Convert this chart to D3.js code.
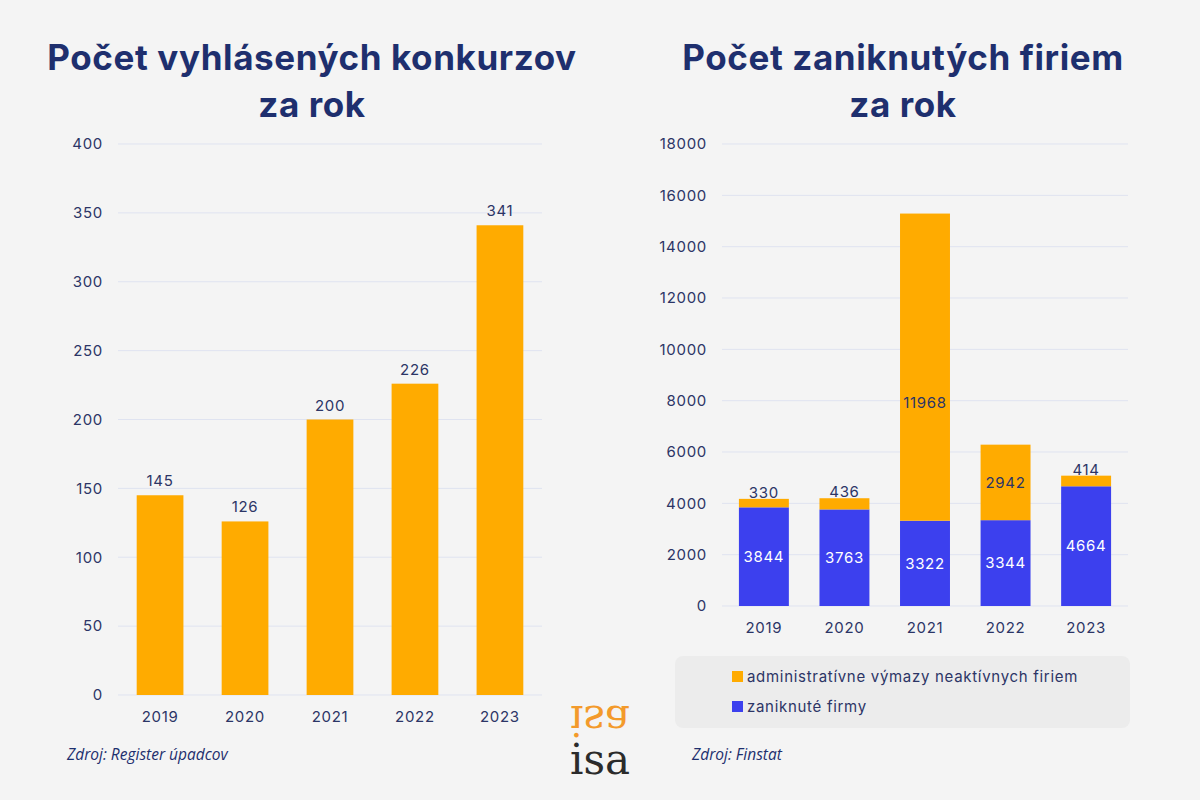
<!DOCTYPE html>
<html>
<head>
<meta charset="utf-8">
<script src="https://cdn.jsdelivr.net/npm/d3@7"></script>
<style>
  body { margin: 0; background: #f4f4f4; }
  svg { display: block; }
</style>
</head>
<body>
<div id="chart"></div>
<script>
// Data
const years = ["2019", "2020", "2021", "2022", "2023"];
const konkurzy = [145, 126, 200, 226, 341];
const zaniknute = [3844, 3763, 3322, 3344, 4664];
const vymazy = [330, 436, 11968, 2942, 414];
const leftTicks = [0, 50, 100, 150, 200, 250, 300, 350, 400];
const rightTicks = [0, 2000, 4000, 6000, 8000, 10000, 12000, 14000, 16000, 18000];

const width = 1200;
const height = 800;
const navy = "#1e2f6e";
const textColor = "#2c3566";
const orange = "#ffab00";
const blue = "#3c40ee";
const gridColor = "#dfe3f0";
const font = "Inter, 'Noto Sans', sans-serif";
const ls = "0.7px";

const svg = d3.select("#chart").append("svg")
    .attr("width", width)
    .attr("height", height);

svg.append("rect").attr("width", width).attr("height", height).attr("fill", "#f4f4f4");

// Titles
function title(cx, lines) {
    const t = svg.append("text")
        .attr("text-anchor", "middle")
        .attr("font-family", font)
        .attr("font-weight", 700)
        .attr("font-size", 35)
        .attr("letter-spacing", "0.6px")
        .attr("fill", navy);
    lines.forEach((l, i) => {
        t.append("tspan").attr("x", cx).attr("y", 70 + i * 47).text(l);
    });
}
title(312, ["Počet vyhlásených konkurzov", "za rok"]);
title(903, ["Počet zaniknutých firiem", "za rok"]);

// Helper for y axis with gridlines
function drawYAxis(g, y, ticks, x0, x1) {
    g.selectAll(".grid").data(ticks).enter().append("line")
        .attr("x1", x0).attr("x2", x1)
        .attr("y1", d => y(d)).attr("y2", d => y(d))
        .attr("stroke", gridColor).attr("stroke-width", 1);
    g.selectAll(".ytick").data(ticks).enter().append("text")
        .attr("x", x0 - 15).attr("y", d => y(d))
        .attr("dy", "0.35em")
        .attr("text-anchor", "end")
        .attr("font-family", font).attr("font-size", 15)
        .attr("letter-spacing", ls)
        .attr("fill", textColor)
        .text(d => d);
}

function drawXAxis(g, x, yPos) {
    g.selectAll(".xtick").data(years).enter().append("text")
        .attr("x", d => x(d) + x.bandwidth() / 2)
        .attr("y", yPos)
        .attr("text-anchor", "middle")
        .attr("font-family", font).attr("font-size", 15)
        .attr("letter-spacing", ls)
        .attr("fill", textColor)
        .text(d => d);
}

// Left chart
const xL = d3.scaleBand().domain(years).range([118, 542]).paddingInner(0.45).paddingOuter(0.22);
const yL = d3.scaleLinear().domain([0, 400]).range([695, 144]);
const gL = svg.append("g");
drawYAxis(gL, yL, leftTicks, 118, 542);

gL.selectAll(".bar").data(konkurzy).enter().append("rect")
    .attr("x", (d, i) => xL(years[i]))
    .attr("y", d => yL(d))
    .attr("width", xL.bandwidth())
    .attr("height", d => yL(0) - yL(d))
    .attr("fill", orange);

gL.selectAll(".lbl").data(konkurzy).enter().append("text")
    .attr("x", (d, i) => xL(years[i]) + xL.bandwidth() / 2)
    .attr("y", d => yL(d) - 9)
    .attr("text-anchor", "middle")
    .attr("font-family", font).attr("font-size", 15)
    .attr("letter-spacing", ls)
    .attr("fill", textColor)
    .text(d => d);
drawXAxis(gL, xL, 722);

// Right chart
const xR = d3.scaleBand().domain(years).range([722, 1128]).paddingInner(0.38).paddingOuter(0.21);
const yR = d3.scaleLinear().domain([0, 18000]).range([606, 144]);
const gR = svg.append("g");
drawYAxis(gR, yR, rightTicks, 722, 1128);

const stackData = years.map((yr, i) => ({ year: yr, zaniknute: zaniknute[i], vymazy: vymazy[i] }));
const stack = d3.stack().keys(["zaniknute", "vymazy"])(stackData);
const colors = { zaniknute: blue, vymazy: orange };

stack.forEach(layer => {
    gR.selectAll(".seg-" + layer.key).data(layer).enter().append("rect")
        .attr("x", d => xR(d.data.year))
        .attr("y", d => yR(d[1]))
        .attr("width", xR.bandwidth())
        .attr("height", d => yR(d[0]) - yR(d[1]))
        .attr("fill", colors[layer.key]);
});

// labels for blue segments
gR.selectAll(".lblB").data(stack[0]).enter().append("text")
    .attr("x", d => xR(d.data.year) + xR.bandwidth() / 2)
    .attr("y", d => (yR(d[0]) + yR(d[1])) / 2)
    .attr("dy", "0.35em")
    .attr("text-anchor", "middle")
    .attr("font-family", font).attr("font-size", 15)
    .attr("letter-spacing", ls)
    .attr("fill", "#ffffff")
    .text(d => d.data.zaniknute);

// labels for orange segments: inside when tall (kept in the lower part), above when small
gR.selectAll(".lblO").data(stack[1]).enter().append("text")
    .attr("x", d => xR(d.data.year) + xR.bandwidth() / 2)
    .attr("y", d => {
        const h = yR(d[0]) - yR(d[1]);
        return h > 30 ? yR(d[0] + Math.min((d[1] - d[0]) / 2, 4600)) : yR(d[1]) - 1;
    })
    .attr("dy", d => (yR(d[0]) - yR(d[1]) > 30 ? "0.35em" : "0"))
    .attr("text-anchor", "middle")
    .attr("font-family", font).attr("font-size", 15)
    .attr("letter-spacing", ls)
    .attr("fill", textColor)
    .text(d => d.data.vymazy);
drawXAxis(gR, xR, 633);

// Legend
svg.append("rect")
    .attr("x", 675).attr("y", 656)
    .attr("width", 455).attr("height", 72)
    .attr("rx", 8)
    .attr("fill", "#ececec");

const legendItems = [
    { label: "administratívne výmazy neaktívnych firiem", color: orange },
    { label: "zaniknuté firmy", color: blue }
];
legendItems.forEach((d, i) => {
    svg.append("rect")
        .attr("x", 732).attr("y", 671 + i * 30)
        .attr("width", 11).attr("height", 11)
        .attr("fill", d.color);
    svg.append("text")
        .attr("x", 747).attr("y", 677 + i * 30)
        .attr("dy", "0.35em")
        .attr("font-family", font).attr("font-size", 15)
        .attr("letter-spacing", ls)
        .attr("fill", textColor)
        .text(d.label);
});

// Sources
svg.append("text")
    .attr("x", 67).attr("y", 760)
    .attr("font-family", "'Open Sans', sans-serif")
    .attr("font-style", "italic")
    .attr("font-size", 15.5)
    .attr("fill", navy)
    .text("Zdroj: Register úpadcov");
svg.append("text")
    .attr("x", 692).attr("y", 760)
    .attr("font-family", "'Open Sans', sans-serif")
    .attr("font-style", "italic")
    .attr("font-size", 15.5)
    .attr("fill", navy)
    .text("Zdroj: Finstat");

// Logo
svg.append("text")
    .attr("x", 600).attr("y", 774)
    .attr("text-anchor", "middle")
    .attr("font-family", "'DejaVu Serif', serif")
    .attr("font-size", 42)
    .attr("fill", "#2b2b2b")
    .text("isa");
svg.append("text")
    .attr("transform", "translate(600,706) scale(1,-1)")
    .attr("text-anchor", "middle")
    .attr("font-family", "'DejaVu Serif', serif")
    .attr("font-size", 42)
    .attr("fill", "#f39a2b")
    .text("isa");
</script>
</body>
</html>
